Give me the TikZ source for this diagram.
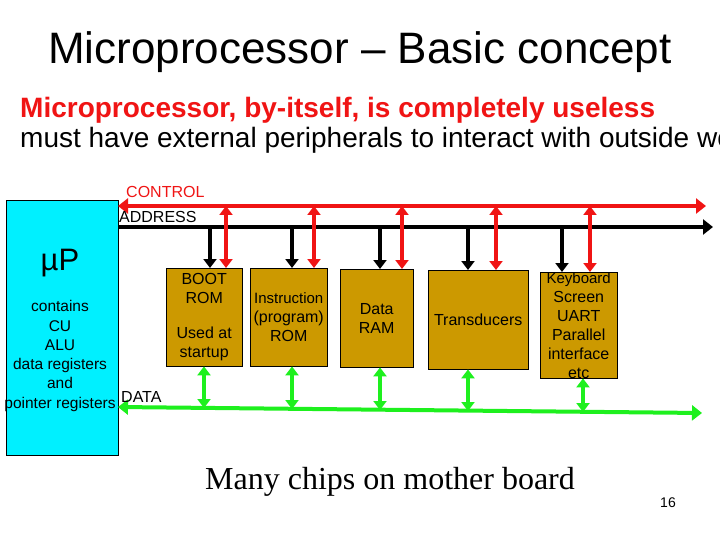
\documentclass[tikz,border=0pt]{standalone}
\usepackage{fontspec}
\setmainfont{Liberation Sans}
\newfontfamily\tms{Liberation Serif}
\usetikzlibrary{arrows.meta}
\definecolor{boxc}{RGB}{204,153,0}
\definecolor{cy}{RGB}{0,240,255}
\definecolor{rd}{RGB}{240,20,20}
\definecolor{gr}{RGB}{30,240,30}
\begin{document}
\begin{tikzpicture}[x=1pt,y=-1pt,
  chip/.style={draw=black,fill=boxc,anchor=north west,inner sep=0pt,align=center,font=\fontsize{16}{19}\selectfont},
  rbus/.style={rd,line width=4pt,{Triangle[length=10pt,width=15pt]}-{Triangle[length=10pt,width=15pt]}},
  abus/.style={black,line width=4pt,-{Triangle[length=10pt,width=15pt]}},
  gbus/.style={gr,line width=4pt,{Triangle[length=10pt,width=15pt]}-{Triangle[length=10pt,width=15pt]}},
  lab/.style={font=\fontsize{16}{18}\selectfont,anchor=west,inner sep=0pt}]
\useasboundingbox (0,0) rectangle (720,540);
\fill[white] (0,0) rectangle (720,540);
\node (title) at (360,52) {\fontsize{44}{50}\selectfont Microprocessor – Basic concept};
\node[anchor=west,inner sep=0pt,text=rd] (l1) at (20,110) {\fontsize{28}{32}\selectfont\bfseries Microprocessor, by-itself, is completely useless};
\node[anchor=west,inner sep=0pt] (l2) at (20,140) {\fontsize{28}{32}\selectfont must have external peripherals to interact with outside world};
\node[draw=black,fill=cy,anchor=north west,minimum width=112pt,minimum height=255pt,inner sep=0pt] (up) at (6,200) {};
\node (mu) at (60,263) {\fontsize{31}{34}\selectfont µP};
\node[align=center,font=\fontsize{15.5}{19.3}\selectfont] (cont) at (60,356) {contains\\CU\\ALU\\data registers\\and\\pointer registers};
\coordinate (cl) at (118,206); \coordinate (cr) at (706,206);
\coordinate (al) at (118,227); \coordinate (ar) at (713,227);
\coordinate (dl) at (118,407); \coordinate (dr) at (702,413);
\draw[rbus] (cl) -- (cr);
\draw[abus] (al) -- (ar);
\draw[gbus] (dl) -- (dr);
\node[lab,text=rd] (clab) at (126,192) {CONTROL};
\node[lab] (alab) at (119,217) {ADDRESS};
\node[lab] (dlab) at (121,397) {DATA};
\node[chip,minimum width=76pt,minimum height=98pt] (b1) at (166,268) {BOOT\\ROM\\[16pt]Used at\\startup};
\node[chip,minimum width=77pt,minimum height=98pt] (b2) at (250,268) {\fontsize{15}{19}\selectfont Instruction\\(program)\\ROM};
\node[chip,minimum width=73pt,minimum height=98pt] (b3) at (340,269) {Data\\RAM};
\node[chip,minimum width=100pt,minimum height=99pt] (b4) at (428,270) {Transducers};
\node[chip,minimum width=77pt,minimum height=100pt] (b5) at (540,272) {\fontsize{15}{19}\selectfont Keyboard\\Screen\\UART\\Parallel\\interface\\etc};
\foreach \b/\xa/\xr/\xg/\yg in {b1/210/226/204/408,b2/292/314/292/409,b3/380/402/380/410,b4/468/496/468/411,b5/562/590/583/412}{
  \coordinate (a\b) at (\xa,227); \coordinate (r\b) at (\xr,206); \coordinate (g\b) at (\xg,\yg);
  \draw[black,line width=4pt,-{Triangle[length=9pt,width=13pt]}] (a\b) -- (\b.north -| a\b);
  \draw[rd,line width=4pt,{Triangle[length=9pt,width=13pt]}-{Triangle[length=9pt,width=13pt]}] (r\b) -- (\b.north -| r\b);
  \draw[gr,line width=4pt,{Triangle[length=9pt,width=13pt]}-{Triangle[length=9pt,width=13pt]}] (\b.south -| g\b) -- (g\b);
}
\node (many) at (390,482) {\tms\fontsize{32}{36}\selectfont Many chips on mother board};
\node (pg) at (668,503) {\fontsize{14}{16}\selectfont 16};
\end{tikzpicture}
\end{document}
